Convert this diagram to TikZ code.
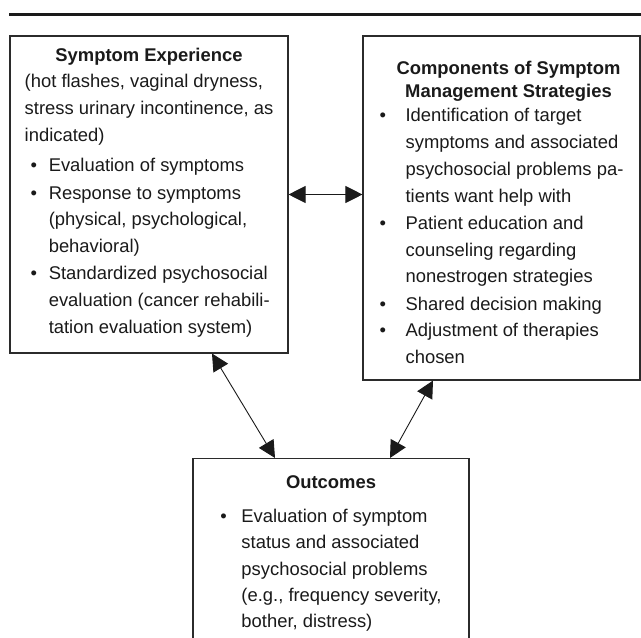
\documentclass[tikz,border=0pt]{standalone}
\usepackage{fontspec}
\setmainfont{Liberation Sans}
\usepackage{xcolor}
\usepackage{tikz}
\usetikzlibrary{
    arrows.meta,
    positioning,
    calc
}
\definecolor{ink}   {HTML}{1A1A1A}
\definecolor{frame} {HTML}{2B2B2B}

\begin{document}
\begin{tikzpicture}[
    x=1pt, y=-1pt,
    >={Triangle[length=17pt, width=17pt]},
    %% --- semantic styles ---
    panel/.style   = {rectangle, draw=frame, fill=white, line width=1.1pt,
                      inner sep=0pt, text=ink,
                      font=\fontsize{18.4pt}{26.7pt}\selectfont},
    link/.style    = {<->, draw=ink, line width=0.9pt},
    headrule/.style = {draw=ink, line width=3pt}
]
\useasboundingbox (0,0) rectangle (641,638);

%% =====================================================
%% Rule above the figure
%% =====================================================
\draw[headrule] (9,14) -- (641,14);

%% =====================================================
%% Symptom experience
%% =====================================================
\node[panel, minimum width=278pt, minimum height=317pt] (SE) at (149, 194.5) {%
    \begin{tabular}{@{}l@{\hspace{11.6pt}}l@{}}
        \multicolumn{2}{c}{\bfseries Symptom Experience}\\[-0.4pt]
        \multicolumn{2}{@{}l@{}}{(hot flashes, vaginal dryness,}\\
        \multicolumn{2}{@{}l@{}}{stress urinary incontinence, as}\\
        \multicolumn{2}{@{}l@{}}{indicated)}\\[4pt]
        \hspace*{6pt}\textbullet & Evaluation of symptoms\\[0.6pt]
        \hspace*{6pt}\textbullet & Response to symptoms\\
                                 & (physical, psychological,\\
                                 & behavioral)\\[0.6pt]
        \hspace*{6pt}\textbullet & Standardized psychosocial\\
                                 & evaluation (cancer rehabili-\\
                                 & tation evaluation system)\\[4.7pt]
    \end{tabular}
};

%% =====================================================
%% Components of symptom management strategies
%% =====================================================
\node[panel, minimum width=277pt, minimum height=344pt] (CM) at (501.5, 208) {%
    \begin{tabular}{@{}l@{\hspace{19.6pt}}l@{}}
        \multicolumn{2}{@{}c@{}}{\hspace*{14pt}\rule{0pt}{29.7pt}\bfseries Components of Symptom}\\[-3.4pt]
        \multicolumn{2}{@{}c@{}}{\hspace*{14pt}\bfseries Management Strategies}\\[-2.3pt]
        \textbullet & Identification of target\\
                    & symptoms and associated\\
                    & psychosocial problems pa-\\
                    & tients want help with\\[0.6pt]
        \textbullet & Patient education and\\
                    & counseling regarding\\
                    & nonestrogen strategies\\[0.6pt]
        \textbullet & Shared decision making\\
        \textbullet & Adjustment of therapies\\
                    & chosen
    \end{tabular}
};

%% =====================================================
%% Outcomes
%% =====================================================
\node[panel, minimum width=276pt, anchor=north] (OUT) at (331, 458) {%
    \begin{tabular}{@{}l@{\hspace{14.6pt}}l@{}}
        \multicolumn{2}{c}{\rule{0pt}{30.3pt}\bfseries Outcomes}\\[6.6pt]
        \textbullet & Evaluation of symptom\\
                    & status and associated\\
                    & psychosocial problems\\[-1pt]
                    & (e.g., frequency severity,\\[-0.7pt]
                    & bother, distress)\\[14pt]
    \end{tabular}
};

% Two-way links between the three panels
\draw[link] (SE.east) -- (SE.east -| CM.west);
\draw[link] ($(SE.south)+(63,0)$) -- ($(OUT.north)+(-56,0)$);
\draw[link] ($(CM.south)+(-68.5,0)$) -- ($(OUT.north)+(59,0)$);

\end{tikzpicture}
\end{document}
